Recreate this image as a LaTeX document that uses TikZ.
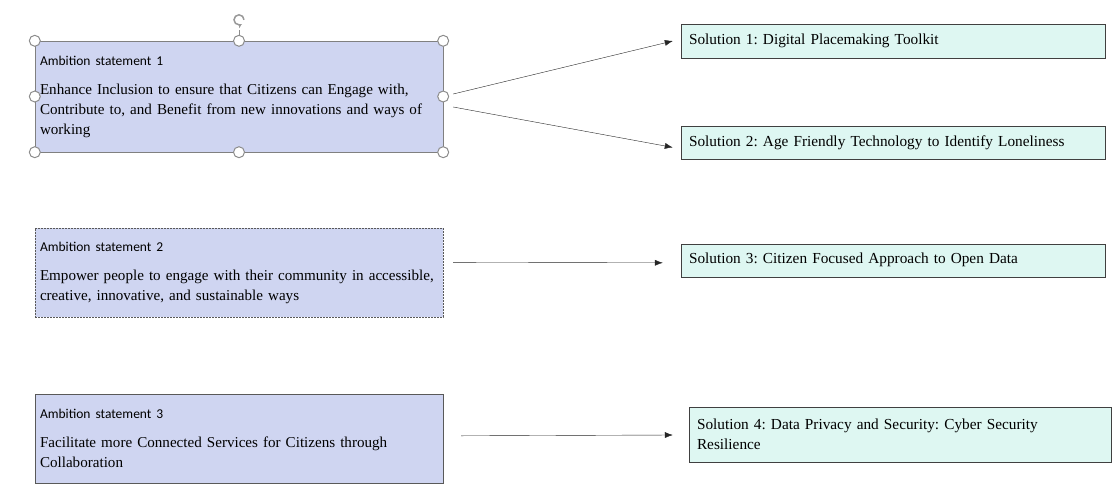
\documentclass[tikz,border=0pt]{standalone}
\usepackage{fontspec}
\setmainfont{Liberation Serif}
\newfontfamily\headfont{Carlito}
\frenchspacing
\usetikzlibrary{positioning,arrows.meta}
\definecolor{ambfill}{HTML}{CFD5F1}
\definecolor{solfill}{HTML}{DEF7F2}
\tikzset{ambition/.style={draw=black!65,fill=ambfill,text width=398pt,inner xsep=5pt,align=left,font=\fontsize{15.1}{20}\selectfont},
solution/.style={draw=black!75,fill=solfill,text width=408pt,inner xsep=8pt,align=left,font=\fontsize{15.3}{20}\selectfont},
link/.style={-{Latex[length=8pt,width=6pt]},black!85},
handle/.style={draw=black!45,fill=white,line width=1pt}}
\newcommand{\ambhead}[1]{{\headfont\fontsize{13.5}{16}\selectfont Ambition statement #1}\\[9pt]}

\begin{document}
\begin{tikzpicture}[x=1pt,y=-1pt]
\useasboundingbox (0,0) rectangle (1112,483);
% ambition statements
\node[ambition,draw=black!50,minimum height=111pt] (a1) at (239,96.5) {\ambhead{1}Enhance Inclusion to ensure that Citizens can Engage with,\\ Contribute to, and Benefit from new innovations and ways of\\ working};
\node[ambition,dash pattern=on 2pt off 1pt,minimum height=89pt,below=76pt of a1] (a2) {\ambhead{2}Empower people to engage with their community in accessible,\\ creative, innovative, and sustainable ways};
\node[ambition,minimum height=89pt,below=76pt of a2] (a3) {\ambhead{3}Facilitate more Connected Services for Citizens through\\ Collaboration};
% solutions
\node[solution,minimum height=34pt] (s1) at (893,41) {Solution 1: Digital Placemaking Toolkit};
\node[solution,minimum height=33pt,below=68pt of s1] (s2) {Solution 2: Age Friendly Technology to Identify Loneliness};
\node[solution,minimum height=33pt,below=84pt of s2] (s3) {Solution 3: Citizen Focused Approach to Open Data};
\node[solution,text width=406pt,minimum height=55pt] (s4) at (900,434.5) {Solution 4: Data Privacy and Security: Cyber Security\\ Resilience};
% links
\draw[link] ([xshift=10pt,yshift=2.5pt]a1.east) -- ([xshift=-8pt]s1.west);
\draw[link] ([xshift=10pt,yshift=-10.5pt]a1.east) -- ([xshift=-8pt,yshift=-4.5pt]s2.west);
\draw[link] ([xshift=10pt,yshift=10.5pt]a2.east) -- ([xshift=-18pt,yshift=-2.5pt]s3.west);
\draw[link] ([xshift=18pt,yshift=2.5pt]a3.east) -- ([xshift=-16pt,yshift=-0.5pt]s4.west);
% selection handles of the first box
\draw[draw=black!45,line width=1pt] (a1.north) -- ++(0,-11);
\draw[draw=black!40,line width=1.5pt,-{Stealth[length=4pt,width=5pt]}] ([xshift=5pt,yshift=21pt]a1.north) arc[start angle=0,end angle=300,radius=5pt];
\foreach \p in {north west,north,north east,east,south east,south,south west,west}
  \draw[handle] (a1.\p) circle (5.5pt);
\end{tikzpicture}
\end{document}
